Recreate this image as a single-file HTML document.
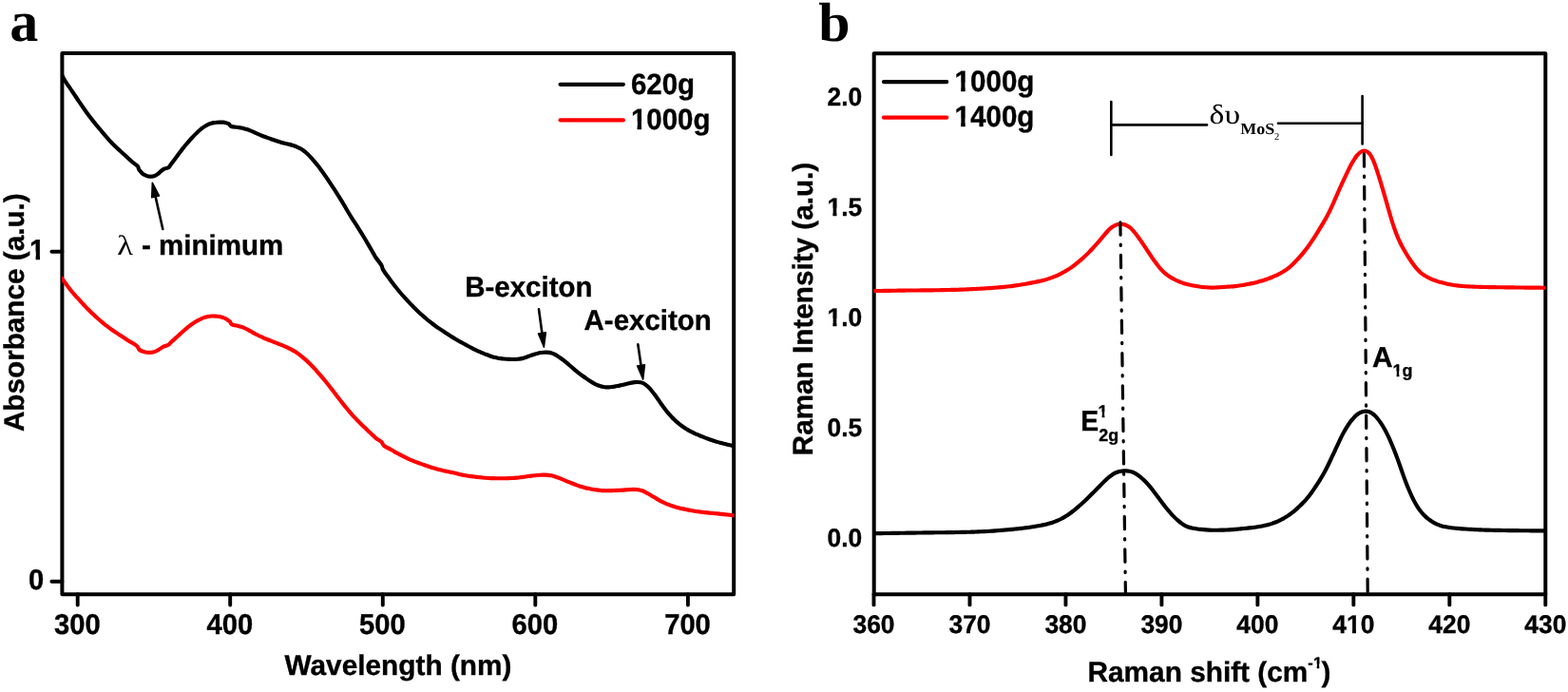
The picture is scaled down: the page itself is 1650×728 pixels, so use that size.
<!DOCTYPE html>
<html lang="en">
<head>
<meta charset="utf-8">
<title>Absorbance and Raman spectra</title>
<style>
html,body{margin:0;padding:0;background:#fff;}
body{width:1650px;height:728px;overflow:hidden;}
svg{display:block;}
text{fill:#000;text-rendering:geometricPrecision;}
.sans{font-family:"Liberation Sans",Arial,Helvetica,sans-serif;font-weight:bold;stroke:#000;stroke-width:0.35px;stroke-linejoin:round;}
.serif{font-family:"Liberation Serif","Times New Roman",Times,serif;font-weight:normal;}
.serifb{font-family:"Liberation Serif","Times New Roman",Times,serif;font-weight:bold;}
</style>
</head>
<body>
<svg width="1650" height="728" viewBox="0 0 1650 728">
<defs>
<clipPath id="ca"><rect x="65.00" y="56.10" width="707.60" height="569.20"/></clipPath>
<clipPath id="cb"><rect x="919.30" y="56.20" width="707.20" height="569.10"/></clipPath>
<clipPath id="h0"><path clip-rule="evenodd" d="M-60 -80H420V60H-60ZM0.36 -8.64H6.68V1.60H0.36ZM11.15 -8.64H16.79V1.60H11.15Z"/></clipPath>
<clipPath id="h1"><path clip-rule="evenodd" d="M-60 -80H420V60H-60ZM0.34 -8.55H6.62V1.60H0.34ZM11.04 -8.55H16.63V1.60H11.04Z"/></clipPath>
<clipPath id="h2"><path clip-rule="evenodd" d="M-60 -80H420V60H-60ZM0.36 -8.67H6.71V1.60H0.36ZM11.19 -8.67H16.84V1.60H11.19Z"/></clipPath>
<clipPath id="h3"><path clip-rule="evenodd" d="M-60 -80H420V60H-60ZM14.85 -7.73H20.66V1.60H14.85ZM24.66 -7.73H29.83V1.60H24.66Z"/></clipPath>
<clipPath id="h4"><path clip-rule="evenodd" d="M-60 -80H420V60H-60ZM0.16 -7.73H5.98V1.60H0.16ZM9.98 -7.73H15.15V1.60H9.98Z"/></clipPath>
<clipPath id="h5"><path clip-rule="evenodd" d="M-60 -80H420V60H-60ZM236.95 -18.72H241.20V-12.20H236.95ZM243.74 -18.72H247.47V-12.20H243.74Z"/></clipPath>
<clipPath id="h6"><path clip-rule="evenodd" d="M-60 -80H420V60H-60ZM-0.37 -5.24H4.06V1.60H-0.37ZM6.76 -5.24H10.66V1.60H6.76Z"/></clipPath>
</defs>
<rect width="1650" height="728" fill="#fff"/>
<g id="panel-a">
<rect x="65.40" y="56.10" width="706.80" height="569.20" fill="none" stroke="#000" stroke-width="4.00" stroke-linejoin="round"/>
<g stroke="#000" stroke-width="3.9" stroke-linecap="round">
<line x1="54.40" y1="264.70" x2="65.40" y2="264.70"/>
<line x1="54.40" y1="611.70" x2="65.40" y2="611.70"/>
<line x1="81.70" y1="625.30" x2="81.70" y2="636.60"/>
<line x1="242.20" y1="625.30" x2="242.20" y2="636.60"/>
<line x1="402.80" y1="625.30" x2="402.80" y2="636.60"/>
<line x1="563.30" y1="625.30" x2="563.30" y2="636.60"/>
<line x1="723.90" y1="625.30" x2="723.90" y2="636.60"/>
</g>
<g fill="none" stroke-width="4.15" stroke-linejoin="round" stroke-linecap="butt" clip-path="url(#ca)">
<path d="M64.00 76.80C64.50 77.75 65.99 80.74 66.99 82.49C67.98 84.23 68.98 85.75 69.98 87.28C70.97 88.80 71.97 90.18 72.96 91.64C73.96 93.10 74.96 94.54 75.95 96.02C76.95 97.49 77.94 99.01 78.94 100.51C79.94 102.00 80.93 103.52 81.93 105.01C82.92 106.49 83.92 107.97 84.92 109.43C85.91 110.88 86.91 112.32 87.90 113.73C88.90 115.15 89.90 116.55 90.89 117.93C91.89 119.31 92.88 120.67 93.88 122.00C94.88 123.33 95.87 124.63 96.87 125.90C97.86 127.17 98.86 128.41 99.86 129.63C100.85 130.85 101.85 132.04 102.84 133.23C103.84 134.43 104.84 135.60 105.83 136.79C106.83 137.97 107.82 139.16 108.82 140.34C109.82 141.52 110.81 142.71 111.81 143.87C112.80 145.03 113.80 146.18 114.80 147.28C115.79 148.38 116.79 149.45 117.78 150.48C118.78 151.51 119.78 152.48 120.77 153.44C121.77 154.40 122.76 155.32 123.76 156.24C124.76 157.16 125.75 158.06 126.75 158.97C127.74 159.88 128.74 160.79 129.74 161.71C130.73 162.63 131.73 163.55 132.72 164.48C133.72 165.40 134.72 166.32 135.71 167.24C136.71 168.17 137.20 168.76 138.70 170.00C140.20 171.24 143.42 173.25 144.70 174.70C145.98 176.15 145.52 177.37 146.40 178.70C147.28 180.03 149.07 181.82 150.00 182.70C150.93 183.58 151.33 183.59 152.00 183.95C152.67 184.31 153.33 184.61 154.00 184.86C154.67 185.11 155.33 185.30 156.00 185.44C156.67 185.57 157.33 185.66 158.00 185.69C158.67 185.72 159.33 185.69 160.00 185.61C160.67 185.52 161.33 185.38 162.00 185.17C162.67 184.96 163.33 184.68 164.00 184.33C164.67 183.98 165.33 183.55 166.00 183.05C166.67 182.54 166.88 182.19 168.00 181.30C169.12 180.41 171.15 178.53 172.70 177.70C174.25 176.87 176.08 177.13 177.30 176.30C178.52 175.47 178.43 174.78 180.00 172.70C181.57 170.62 185.09 165.99 186.70 163.83C188.31 161.67 188.67 161.06 189.66 159.73C190.64 158.41 191.63 157.12 192.62 155.87C193.60 154.61 194.59 153.40 195.57 152.22C196.56 151.03 197.55 149.89 198.53 148.77C199.52 147.64 200.50 146.55 201.49 145.48C202.48 144.41 203.46 143.37 204.45 142.36C205.43 141.35 206.42 140.36 207.41 139.43C208.39 138.49 209.38 137.59 210.36 136.75C211.35 135.91 212.34 135.11 213.32 134.40C214.31 133.68 215.29 133.03 216.28 132.45C217.27 131.87 218.25 131.37 219.24 130.93C220.22 130.50 221.21 130.14 222.20 129.83C223.18 129.53 224.17 129.29 225.15 129.11C226.14 128.92 227.13 128.79 228.11 128.71C229.10 128.62 230.08 128.59 231.07 128.57C232.06 128.55 233.21 128.59 234.03 128.61C234.85 128.63 234.89 128.42 236.00 128.70C237.11 128.98 239.48 129.58 240.70 130.30C241.92 131.01 241.63 132.37 243.30 132.98C244.97 133.59 248.97 133.69 250.70 133.94C252.43 134.20 252.69 134.31 253.69 134.52C254.69 134.73 255.69 134.97 256.68 135.23C257.68 135.49 258.68 135.77 259.68 136.09C260.67 136.42 261.67 136.77 262.67 137.16C263.66 137.54 264.66 137.97 265.66 138.41C266.66 138.85 267.65 139.32 268.65 139.77C269.65 140.22 270.64 140.68 271.64 141.11C272.64 141.54 273.64 141.95 274.63 142.35C275.63 142.75 276.63 143.12 277.63 143.50C278.62 143.87 279.62 144.23 280.62 144.59C281.61 144.95 282.61 145.31 283.61 145.66C284.61 146.01 285.60 146.36 286.60 146.71C287.60 147.06 288.60 147.41 289.59 147.75C290.59 148.10 291.59 148.44 292.58 148.77C293.58 149.09 294.58 149.41 295.58 149.70C296.57 149.99 297.57 150.25 298.57 150.50C299.56 150.75 300.56 150.96 301.56 151.19C302.56 151.42 303.55 151.62 304.55 151.88C305.55 152.13 306.55 152.40 307.54 152.71C308.54 153.02 309.54 153.37 310.53 153.76C311.53 154.14 312.53 154.56 313.53 155.03C314.52 155.50 315.52 155.99 316.52 156.57C317.52 157.15 318.51 157.78 319.51 158.50C320.51 159.23 321.50 160.04 322.50 160.93C323.50 161.82 324.50 162.82 325.49 163.85C326.49 164.87 327.49 165.97 328.48 167.09C329.48 168.21 330.48 169.37 331.48 170.56C332.47 171.76 333.47 172.98 334.47 174.25C335.47 175.52 336.46 176.83 337.46 178.18C338.46 179.53 339.45 180.93 340.45 182.35C341.45 183.76 342.45 185.22 343.44 186.69C344.44 188.16 345.44 189.66 346.44 191.16C347.43 192.65 348.43 194.16 349.43 195.67C350.42 197.18 351.42 198.69 352.42 200.22C353.42 201.75 354.41 203.27 355.41 204.83C356.41 206.39 357.40 207.96 358.40 209.59C359.40 211.21 360.40 212.87 361.39 214.56C362.39 216.24 363.39 217.99 364.39 219.68C365.38 221.38 366.38 223.09 367.38 224.73C368.37 226.38 369.37 227.96 370.37 229.53C371.37 231.10 372.36 232.61 373.36 234.15C374.36 235.69 375.36 237.22 376.35 238.79C377.35 240.36 378.35 241.96 379.34 243.58C380.34 245.20 381.34 246.86 382.34 248.52C383.33 250.19 384.33 251.87 385.33 253.56C386.32 255.24 387.32 256.94 388.32 258.64C389.32 260.34 390.31 262.05 391.31 263.77C392.31 265.49 393.64 267.80 394.30 268.96C394.97 270.11 394.13 269.04 395.30 270.70C396.47 272.36 399.97 276.67 401.30 278.91C402.63 281.14 401.85 281.67 403.30 284.09C404.75 286.51 408.38 291.18 410.00 293.43C411.62 295.68 412.00 296.26 413.00 297.61C414.00 298.97 415.00 300.28 416.00 301.56C417.00 302.83 418.00 304.06 419.00 305.26C419.99 306.46 420.99 307.61 421.99 308.75C422.99 309.89 423.99 310.99 424.99 312.09C425.99 313.20 426.99 314.29 427.99 315.37C428.99 316.46 429.99 317.54 430.99 318.60C431.99 319.67 432.99 320.73 433.99 321.76C434.99 322.80 435.99 323.81 436.99 324.81C437.98 325.80 438.98 326.77 439.98 327.72C440.98 328.67 441.98 329.60 442.98 330.51C443.98 331.42 444.98 332.31 445.98 333.18C446.98 334.05 447.98 334.90 448.98 335.73C449.98 336.56 450.98 337.37 451.98 338.17C452.98 338.96 453.98 339.74 454.98 340.50C455.97 341.26 456.97 342.00 457.97 342.73C458.97 343.45 459.97 344.15 460.97 344.85C461.97 345.54 462.97 346.21 463.97 346.88C464.97 347.54 465.97 348.20 466.97 348.85C467.97 349.51 468.97 350.15 469.97 350.80C470.97 351.45 471.97 352.09 472.97 352.73C473.96 353.36 474.96 354.00 475.96 354.61C476.96 355.23 477.96 355.84 478.96 356.44C479.96 357.03 480.96 357.61 481.96 358.18C482.96 358.75 483.96 359.30 484.96 359.85C485.96 360.41 486.96 360.95 487.96 361.50C488.96 362.05 489.96 362.59 490.96 363.14C491.95 363.69 492.95 364.25 493.95 364.79C494.95 365.34 495.95 365.88 496.95 366.41C497.95 366.93 498.95 367.45 499.95 367.94C500.95 368.43 501.95 368.90 502.95 369.35C503.95 369.81 504.95 370.24 505.95 370.66C506.95 371.09 507.95 371.49 508.95 371.89C509.95 372.29 510.94 372.68 511.94 373.06C512.94 373.45 513.94 373.83 514.94 374.19C515.94 374.55 516.94 374.90 517.94 375.21C518.94 375.52 519.94 375.80 520.94 376.05C521.94 376.29 522.94 376.49 523.94 376.67C524.94 376.86 525.94 377.00 526.94 377.14C527.94 377.27 528.93 377.38 529.93 377.47C530.93 377.57 531.93 377.64 532.93 377.71C533.93 377.77 534.93 377.83 535.93 377.87C536.93 377.92 537.93 377.96 538.93 377.98C539.93 378.00 540.93 378.01 541.93 377.98C542.93 377.95 543.93 377.89 544.93 377.79C545.93 377.68 546.92 377.53 547.92 377.34C548.92 377.15 549.92 376.92 550.92 376.65C551.92 376.37 552.92 376.05 553.92 375.71C554.92 375.38 555.92 375.00 556.92 374.63C557.92 374.27 558.92 373.88 559.92 373.53C560.92 373.17 561.92 372.81 562.92 372.50C563.92 372.19 564.91 371.90 565.91 371.66C566.91 371.43 567.91 371.23 568.91 371.07C569.91 370.92 570.91 370.81 571.91 370.74C572.91 370.67 573.91 370.63 574.91 370.66C575.91 370.68 576.91 370.74 577.91 370.91C578.91 371.08 579.91 371.32 580.91 371.66C581.91 372.00 582.90 372.44 583.90 372.94C584.90 373.44 585.90 374.03 586.90 374.66C587.90 375.29 588.90 375.99 589.90 376.71C590.90 377.43 591.90 378.20 592.90 378.99C593.90 379.77 594.90 380.60 595.90 381.43C596.90 382.25 597.90 383.11 598.90 383.96C599.90 384.82 600.90 385.69 601.89 386.55C602.89 387.40 603.89 388.27 604.89 389.10C605.89 389.94 606.89 390.76 607.89 391.55C608.89 392.34 609.89 393.10 610.89 393.85C611.89 394.60 612.89 395.33 613.89 396.04C614.89 396.76 615.89 397.47 616.89 398.16C617.89 398.85 618.89 399.54 619.88 400.20C620.88 400.86 621.88 401.51 622.88 402.12C623.88 402.72 624.88 403.32 625.88 403.84C626.88 404.37 627.88 404.87 628.88 405.28C629.88 405.69 630.88 406.04 631.88 406.33C632.88 406.61 633.88 406.83 634.88 406.99C635.88 407.15 636.88 407.26 637.87 407.31C638.87 407.37 639.87 407.36 640.87 407.32C641.87 407.28 642.87 407.18 643.87 407.06C644.87 406.94 645.87 406.79 646.87 406.62C647.87 406.45 648.87 406.26 649.87 406.05C650.87 405.85 651.87 405.62 652.87 405.39C653.87 405.15 654.87 404.90 655.86 404.66C656.86 404.41 657.86 404.15 658.86 403.91C659.86 403.67 660.86 403.42 661.86 403.20C662.86 402.98 663.86 402.77 664.86 402.60C665.86 402.42 666.86 402.26 667.86 402.16C668.86 402.06 669.86 401.97 670.86 401.99C671.86 402.00 672.86 402.04 673.85 402.25C674.85 402.45 675.85 402.73 676.85 403.19C677.85 403.66 678.85 404.28 679.85 405.05C680.85 405.82 681.85 406.77 682.85 407.80C683.85 408.83 684.85 410.02 685.85 411.23C686.85 412.45 687.85 413.77 688.85 415.11C689.85 416.45 690.85 417.86 691.85 419.27C692.84 420.68 693.84 422.16 694.84 423.58C695.84 425.01 696.84 426.46 697.84 427.84C698.84 429.21 699.84 430.56 700.84 431.82C701.84 433.09 702.84 434.30 703.84 435.44C704.84 436.59 705.84 437.66 706.84 438.70C707.84 439.74 708.84 440.71 709.84 441.66C710.83 442.61 711.83 443.51 712.83 444.37C713.83 445.24 714.83 446.06 715.83 446.84C716.83 447.62 717.83 448.36 718.83 449.06C719.83 449.76 720.83 450.41 721.83 451.04C722.83 451.67 723.83 452.26 724.83 452.82C725.83 453.38 726.83 453.91 727.83 454.42C728.82 454.93 729.82 455.40 730.82 455.87C731.82 456.33 732.82 456.77 733.82 457.20C734.82 457.64 735.82 458.05 736.82 458.46C737.82 458.88 738.82 459.28 739.82 459.68C740.82 460.07 741.82 460.46 742.82 460.84C743.82 461.21 744.82 461.58 745.82 461.94C746.81 462.29 747.81 462.64 748.81 462.98C749.81 463.31 750.81 463.64 751.81 463.96C752.81 464.28 753.81 464.58 754.81 464.88C755.81 465.18 756.81 465.47 757.81 465.75C758.81 466.03 759.81 466.30 760.81 466.57C761.81 466.83 762.81 467.09 763.81 467.33C764.80 467.58 765.80 467.83 766.80 468.06C767.80 468.30 768.80 468.53 769.80 468.75C770.80 468.98 772.13 469.26 772.80 469.40C773.47 469.54 773.63 469.57 773.80 469.60" stroke="#000"/>
<path d="M64.00 291.60C64.33 292.01 65.33 293.20 66.00 294.05C66.67 294.90 67.33 295.78 68.00 296.68C68.67 297.58 69.33 298.51 70.00 299.42C70.67 300.33 71.33 301.26 72.00 302.16C72.67 303.05 73.33 303.93 74.00 304.78C74.67 305.63 75.33 306.44 76.00 307.24C76.67 308.04 77.33 308.80 78.00 309.56C78.67 310.31 79.33 311.05 80.00 311.78C80.67 312.51 81.33 313.24 82.00 313.96C82.67 314.69 83.33 315.42 84.00 316.14C84.67 316.87 85.33 317.59 86.00 318.32C86.67 319.04 87.33 319.76 88.00 320.48C88.67 321.19 89.33 321.90 90.00 322.60C90.67 323.30 91.33 324.00 92.00 324.68C92.67 325.36 93.33 326.03 94.00 326.70C94.67 327.36 95.33 328.01 96.00 328.66C96.67 329.30 97.33 329.94 98.00 330.56C98.67 331.19 99.33 331.81 100.00 332.42C100.67 333.03 101.33 333.64 102.00 334.23C102.67 334.83 103.33 335.42 104.00 336.00C104.67 336.58 105.33 337.16 106.00 337.73C106.67 338.29 107.33 338.85 108.00 339.41C108.67 339.96 109.33 340.51 110.00 341.05C110.67 341.58 111.33 342.11 112.00 342.63C112.67 343.16 113.33 343.67 114.00 344.17C114.67 344.67 115.33 345.16 116.00 345.65C116.67 346.13 117.33 346.61 118.00 347.07C118.67 347.54 119.33 348.00 120.00 348.46C120.67 348.91 121.33 349.36 122.00 349.81C122.67 350.26 123.33 350.70 124.00 351.14C124.67 351.59 125.33 352.03 126.00 352.47C126.67 352.91 127.33 353.35 128.00 353.78C128.67 354.22 129.33 354.65 130.00 355.08C130.67 355.52 131.33 355.95 132.00 356.37C132.67 356.80 133.33 357.22 134.00 357.65C134.67 358.07 134.33 357.84 136.00 358.90C137.67 359.96 142.22 362.48 144.00 364.00C145.78 365.52 145.37 366.95 146.70 368.00C148.03 369.05 150.63 369.83 152.00 370.30C153.37 370.77 153.96 370.71 154.94 370.81C155.92 370.90 156.90 370.93 157.88 370.88C158.86 370.82 159.84 370.71 160.82 370.49C161.80 370.27 162.78 369.98 163.76 369.57C164.74 369.15 165.33 368.81 166.70 368.00C168.07 367.19 170.23 365.58 172.00 364.70C173.77 363.82 175.97 363.48 177.30 362.70C178.63 361.92 178.43 361.45 180.00 360.00C181.57 358.55 185.25 355.31 186.70 354.00C188.15 352.69 188.03 352.75 188.70 352.14C189.37 351.52 190.03 350.91 190.70 350.31C191.37 349.70 192.03 349.10 192.70 348.51C193.37 347.92 194.03 347.33 194.70 346.75C195.37 346.17 196.03 345.60 196.70 345.05C197.37 344.49 198.03 343.95 198.70 343.43C199.37 342.90 200.03 342.39 200.70 341.91C201.37 341.42 202.03 340.95 202.70 340.49C203.37 340.04 204.03 339.61 204.70 339.19C205.37 338.77 206.03 338.37 206.70 337.98C207.37 337.59 208.03 337.22 208.70 336.86C209.37 336.51 210.03 336.16 210.70 335.84C211.37 335.52 212.03 335.22 212.70 334.94C213.37 334.65 214.03 334.39 214.70 334.16C215.37 333.92 216.03 333.71 216.70 333.52C217.37 333.34 218.03 333.18 218.70 333.05C219.37 332.91 220.03 332.81 220.70 332.73C221.37 332.65 222.03 332.59 222.70 332.55C223.37 332.51 224.03 332.50 224.70 332.50C225.37 332.50 226.03 332.52 226.70 332.56C227.37 332.60 228.03 332.65 228.70 332.73C229.37 332.81 230.03 332.91 230.70 333.03C231.37 333.16 232.03 333.31 232.70 333.49C233.37 333.67 234.03 333.87 234.70 334.12C235.37 334.36 236.03 334.64 236.70 334.95C237.37 335.27 237.82 335.43 238.70 336.00C239.58 336.57 241.12 337.52 242.00 338.40C242.88 339.28 242.55 340.55 244.00 341.30C245.45 342.05 249.09 342.49 250.70 342.90C252.31 343.31 252.69 343.42 253.69 343.74C254.68 344.07 255.68 344.44 256.67 344.86C257.67 345.28 258.66 345.75 259.66 346.25C260.65 346.75 261.65 347.32 262.64 347.87C263.64 348.42 264.63 349.01 265.63 349.57C266.62 350.13 267.62 350.69 268.61 351.22C269.61 351.75 270.60 352.27 271.60 352.76C272.59 353.26 273.59 353.73 274.58 354.19C275.58 354.66 276.58 355.10 277.57 355.53C278.57 355.96 279.56 356.38 280.56 356.79C281.55 357.20 282.55 357.60 283.54 358.00C284.54 358.40 285.53 358.78 286.53 359.17C287.52 359.56 288.52 359.94 289.51 360.33C290.51 360.72 291.50 361.10 292.50 361.49C293.49 361.88 294.49 362.27 295.48 362.66C296.48 363.06 297.47 363.45 298.47 363.87C299.47 364.28 300.46 364.69 301.46 365.14C302.45 365.58 303.45 366.04 304.44 366.53C305.44 367.02 306.43 367.52 307.43 368.08C308.42 368.63 309.42 369.21 310.41 369.84C311.41 370.47 312.40 371.14 313.40 371.85C314.39 372.56 315.39 373.32 316.38 374.10C317.38 374.88 318.37 375.70 319.37 376.55C320.36 377.39 321.36 378.26 322.35 379.16C323.35 380.07 324.35 381.00 325.34 381.97C326.34 382.94 327.33 383.95 328.33 384.99C329.32 386.02 330.32 387.10 331.31 388.19C332.31 389.28 333.30 390.40 334.30 391.52C335.29 392.64 336.29 393.77 337.28 394.91C338.28 396.06 339.27 397.21 340.27 398.39C341.26 399.57 342.26 400.78 343.25 402.01C344.25 403.24 345.24 404.51 346.24 405.78C347.23 407.06 348.23 408.36 349.23 409.66C350.22 410.96 351.22 412.27 352.21 413.57C353.21 414.87 354.20 416.17 355.20 417.46C356.19 418.75 357.19 420.04 358.18 421.31C359.18 422.59 360.17 423.85 361.17 425.09C362.16 426.34 363.16 427.56 364.15 428.77C365.15 429.98 366.14 431.17 367.14 432.34C368.13 433.51 369.13 434.66 370.12 435.79C371.12 436.91 372.12 438.01 373.11 439.08C374.11 440.16 375.10 441.20 376.10 442.22C377.09 443.24 378.09 444.23 379.08 445.22C380.08 446.20 381.07 447.17 382.07 448.14C383.06 449.10 384.06 450.06 385.05 451.02C386.05 451.98 387.04 452.93 388.04 453.88C389.03 454.82 390.03 455.77 391.02 456.70C392.02 457.63 393.18 458.71 394.01 459.48C394.84 460.24 394.78 460.41 396.00 461.30C397.22 462.19 399.97 463.55 401.30 464.80C402.63 466.05 402.22 467.38 404.00 468.80C405.78 470.22 410.17 472.28 412.00 473.32C413.83 474.37 414.00 474.52 415.00 475.10C416.00 475.67 417.00 476.24 418.00 476.79C419.00 477.34 420.00 477.88 421.00 478.41C421.99 478.94 422.99 479.46 423.99 479.96C424.99 480.47 425.99 480.96 426.99 481.44C427.99 481.93 428.99 482.40 429.99 482.85C430.99 483.30 431.99 483.74 432.99 484.16C433.99 484.58 434.99 484.99 435.99 485.38C436.99 485.77 437.99 486.14 438.99 486.51C439.98 486.88 440.98 487.23 441.98 487.59C442.98 487.95 443.98 488.30 444.98 488.65C445.98 489.00 446.98 489.36 447.98 489.70C448.98 490.04 449.98 490.38 450.98 490.71C451.98 491.04 452.98 491.36 453.98 491.67C454.98 491.99 455.98 492.29 456.98 492.58C457.97 492.87 458.97 493.15 459.97 493.43C460.97 493.70 461.97 493.97 462.97 494.22C463.97 494.48 464.97 494.72 465.97 494.95C466.97 495.19 467.97 495.40 468.97 495.62C469.97 495.83 470.97 496.03 471.97 496.24C472.97 496.45 473.97 496.65 474.97 496.87C475.96 497.09 476.96 497.31 477.96 497.55C478.96 497.78 479.96 498.03 480.96 498.28C481.96 498.52 482.96 498.78 483.96 499.02C484.96 499.26 485.96 499.49 486.96 499.70C487.96 499.92 488.96 500.11 489.96 500.29C490.96 500.46 491.96 500.62 492.96 500.77C493.95 500.91 494.95 501.04 495.95 501.17C496.95 501.30 497.95 501.41 498.95 501.53C499.95 501.64 500.95 501.75 501.95 501.86C502.95 501.97 503.95 502.07 504.95 502.18C505.95 502.28 506.95 502.38 507.95 502.48C508.95 502.58 509.95 502.68 510.95 502.76C511.94 502.84 512.94 502.91 513.94 502.97C514.94 503.03 515.94 503.07 516.94 503.11C517.94 503.14 518.94 503.16 519.94 503.18C520.94 503.21 521.94 503.22 522.94 503.24C523.94 503.25 524.94 503.27 525.94 503.28C526.94 503.29 527.94 503.30 528.94 503.30C529.93 503.30 530.93 503.29 531.93 503.27C532.93 503.25 533.93 503.23 534.93 503.19C535.93 503.15 536.93 503.11 537.93 503.05C538.93 503.00 539.93 502.94 540.93 502.87C541.93 502.80 542.93 502.73 543.93 502.63C544.93 502.54 545.93 502.43 546.93 502.31C547.92 502.18 548.92 502.04 549.92 501.90C550.92 501.76 551.92 501.60 552.92 501.46C553.92 501.32 554.92 501.17 555.92 501.03C556.92 500.89 557.92 500.75 558.92 500.63C559.92 500.50 560.92 500.38 561.92 500.27C562.92 500.16 563.92 500.07 564.92 499.98C565.91 499.90 566.91 499.82 567.91 499.76C568.91 499.71 569.91 499.65 570.91 499.63C571.91 499.61 572.91 499.61 573.91 499.64C574.91 499.68 575.91 499.73 576.91 499.84C577.91 499.94 578.91 500.08 579.91 500.27C580.91 500.46 581.91 500.70 582.91 500.99C583.90 501.27 584.90 501.62 585.90 501.98C586.90 502.34 587.90 502.74 588.90 503.14C589.90 503.53 590.90 503.94 591.90 504.34C592.90 504.75 593.90 505.16 594.90 505.57C595.90 505.98 596.90 506.40 597.90 506.82C598.90 507.23 599.90 507.66 600.90 508.07C601.90 508.48 602.89 508.89 603.89 509.28C604.89 509.67 605.89 510.04 606.89 510.40C607.89 510.76 608.89 511.10 609.89 511.43C610.89 511.75 611.89 512.06 612.89 512.35C613.89 512.63 614.89 512.90 615.89 513.15C616.89 513.39 617.89 513.62 618.89 513.83C619.89 514.05 620.88 514.24 621.88 514.42C622.88 514.61 623.88 514.77 624.88 514.94C625.88 515.10 626.88 515.25 627.88 515.39C628.88 515.53 629.88 515.67 630.88 515.78C631.88 515.89 632.88 515.99 633.88 516.06C634.88 516.13 635.88 516.17 636.88 516.19C637.88 516.21 638.87 516.20 639.87 516.19C640.87 516.18 641.87 516.15 642.87 516.13C643.87 516.10 644.87 516.07 645.87 516.04C646.87 516.01 647.87 515.98 648.87 515.94C649.87 515.89 650.87 515.85 651.87 515.80C652.87 515.74 653.87 515.68 654.87 515.61C655.87 515.55 656.86 515.47 657.86 515.39C658.86 515.32 659.86 515.23 660.86 515.15C661.86 515.08 662.86 515.00 663.86 514.96C664.86 514.91 665.86 514.87 666.86 514.88C667.86 514.88 668.86 514.90 669.86 515.00C670.86 515.09 671.86 515.22 672.86 515.44C673.86 515.66 674.85 515.95 675.85 516.31C676.85 516.67 677.85 517.12 678.85 517.60C679.85 518.09 680.85 518.65 681.85 519.22C682.85 519.79 683.85 520.41 684.85 521.01C685.85 521.61 686.85 522.23 687.85 522.83C688.85 523.43 689.85 524.03 690.85 524.61C691.85 525.19 692.84 525.76 693.84 526.30C694.84 526.85 695.84 527.39 696.84 527.89C697.84 528.40 698.84 528.89 699.84 529.34C700.84 529.80 701.84 530.23 702.84 530.63C703.84 531.04 704.84 531.41 705.84 531.77C706.84 532.12 707.84 532.45 708.84 532.76C709.84 533.07 710.83 533.36 711.83 533.63C712.83 533.91 713.83 534.16 714.83 534.41C715.83 534.66 716.83 534.90 717.83 535.12C718.83 535.35 719.83 535.57 720.83 535.78C721.83 535.99 722.83 536.19 723.83 536.38C724.83 536.58 725.83 536.76 726.83 536.95C727.83 537.13 728.82 537.30 729.82 537.46C730.82 537.63 731.82 537.78 732.82 537.93C733.82 538.08 734.82 538.21 735.82 538.35C736.82 538.48 737.82 538.60 738.82 538.72C739.82 538.84 740.82 538.96 741.82 539.07C742.82 539.18 743.82 539.29 744.82 539.40C745.82 539.51 746.81 539.61 747.81 539.71C748.81 539.82 749.81 539.91 750.81 540.01C751.81 540.11 752.81 540.20 753.81 540.30C754.81 540.39 755.81 540.49 756.81 540.58C757.81 540.68 758.81 540.78 759.81 540.88C760.81 540.98 761.81 541.09 762.81 541.20C763.81 541.31 764.80 541.42 765.80 541.53C766.80 541.64 767.80 541.76 768.80 541.88C769.80 541.99 770.97 542.14 771.80 542.24C772.63 542.35 773.47 542.46 773.80 542.50" stroke="#f00"/>
</g>
<g stroke-width="4.3" stroke-linecap="round">
<line x1="589.6" y1="88.8" x2="655.8" y2="88.8" stroke="#000"/>
<line x1="589.6" y1="126.4" x2="655.8" y2="126.4" stroke="#f00"/>
</g>
<text class="sans" transform="translate(663.90 98.70) scale(1 1.05)" font-size="29.5">620g</text>
<g clip-path="url(#h0)" transform="translate(663.90 136.30) scale(1 1.05)"><text class="sans" font-size="29.5">1000g</text></g>
<text class="sans" transform="translate(81.30 667.40) scale(1 1.035)" font-size="29.2" text-anchor="middle">300</text>
<text class="sans" transform="translate(241.80 667.40) scale(1 1.035)" font-size="29.2" text-anchor="middle">400</text>
<text class="sans" transform="translate(402.40 667.40) scale(1 1.035)" font-size="29.2" text-anchor="middle">500</text>
<text class="sans" transform="translate(562.90 667.40) scale(1 1.035)" font-size="29.2" text-anchor="middle">600</text>
<text class="sans" transform="translate(723.50 667.40) scale(1 1.035)" font-size="29.2" text-anchor="middle">700</text>
<g clip-path="url(#h1)" transform="translate(31.00 273.30) scale(1 1.035)"><text class="sans" font-size="29.2">1</text></g>
<text class="sans" transform="translate(38.00 620.20) scale(1 1.035)" font-size="29.2" text-anchor="middle">0</text>
<text class="sans" transform="translate(419.00 710.00)" font-size="29.8" text-anchor="middle">Wavelength (nm)</text>
<text class="sans" transform="translate(24.70 328.70) rotate(-90)" font-size="29.7" text-anchor="middle">Absorbance (a.u.)</text>
<text class="serif" transform="translate(123.30 267.50) scale(1.17 1)" font-size="29.6">λ</text>
<text class="sans" transform="translate(149.00 267.50) scale(1 1.01)" font-size="29.55">- minimum</text>
<text class="sans" transform="translate(489.30 312.20) scale(1 1.02)" font-size="29.45">B-exciton</text>
<text class="sans" transform="translate(614.60 347.30) scale(1 1.02)" font-size="29.45">A-exciton</text>
<line x1="171.30" y1="241.00" x2="163.16" y2="204.90" stroke="#000" stroke-width="2.60" stroke-linecap="round"/>
<polygon points="160.30,192.22 167.50,205.97 159.70,207.73" fill="#000" stroke="#000" stroke-width="1.50" stroke-linejoin="round"/>
<line x1="567.00" y1="325.30" x2="570.67" y2="352.38" stroke="#000" stroke-width="2.60" stroke-linecap="round"/>
<polygon points="572.42,365.26 566.44,350.94 574.37,349.86" fill="#000" stroke="#000" stroke-width="1.50" stroke-linejoin="round"/>
<line x1="671.30" y1="362.20" x2="674.82" y2="386.30" stroke="#000" stroke-width="2.60" stroke-linecap="round"/>
<polygon points="676.70,399.16 670.58,384.90 678.49,383.74" fill="#000" stroke="#000" stroke-width="1.50" stroke-linejoin="round"/>
</g>
<text class="serifb" transform="translate(10.20 43.00) scale(1 1.01)" font-size="60">a</text>
<text class="serifb" transform="translate(861.20 43.20) scale(1 0.965)" font-size="60">b</text>
<g id="panel-b">
<rect x="919.70" y="56.20" width="706.60" height="569.10" fill="none" stroke="#000" stroke-width="4.00" stroke-linejoin="round"/>
<g stroke="#000" stroke-width="3.9" stroke-linecap="round">
<line x1="919.50" y1="625.30" x2="919.50" y2="636.40"/>
<line x1="1020.47" y1="625.30" x2="1020.47" y2="636.40"/>
<line x1="1121.44" y1="625.30" x2="1121.44" y2="636.40"/>
<line x1="1222.41" y1="625.30" x2="1222.41" y2="636.40"/>
<line x1="1323.38" y1="625.30" x2="1323.38" y2="636.40"/>
<line x1="1424.35" y1="625.30" x2="1424.35" y2="636.40"/>
<line x1="1525.32" y1="625.30" x2="1525.32" y2="636.40"/>
<line x1="1626.29" y1="625.30" x2="1626.29" y2="636.40"/>
</g>
<g fill="none" stroke-width="4.15" stroke-linejoin="round" clip-path="url(#cb)">
<path d="M918.50 561.10C919.00 561.10 920.50 561.10 921.50 561.10C922.50 561.10 923.50 561.09 924.50 561.09C925.50 561.08 926.50 561.07 927.50 561.07C928.50 561.06 929.50 561.05 930.49 561.04C931.49 561.02 932.49 561.01 933.49 561.00C934.49 560.98 935.49 560.97 936.49 560.96C937.49 560.94 938.49 560.93 939.49 560.91C940.49 560.89 941.49 560.88 942.49 560.86C943.49 560.85 944.49 560.83 945.49 560.81C946.49 560.80 947.49 560.78 948.49 560.77C949.49 560.75 950.49 560.74 951.49 560.72C952.49 560.71 953.49 560.70 954.48 560.68C955.48 560.67 956.48 560.66 957.48 560.64C958.48 560.63 959.48 560.62 960.48 560.60C961.48 560.59 962.48 560.57 963.48 560.56C964.48 560.55 965.48 560.53 966.48 560.52C967.48 560.50 968.48 560.49 969.48 560.47C970.48 560.46 971.48 560.45 972.48 560.43C973.48 560.42 974.48 560.40 975.48 560.39C976.48 560.38 977.48 560.36 978.47 560.35C979.47 560.34 980.47 560.33 981.47 560.32C982.47 560.30 983.47 560.29 984.47 560.28C985.47 560.27 986.47 560.26 987.47 560.25C988.47 560.24 989.47 560.23 990.47 560.22C991.47 560.21 992.47 560.21 993.47 560.20C994.47 560.19 995.47 560.18 996.47 560.17C997.47 560.16 998.47 560.14 999.47 560.13C1000.47 560.12 1001.46 560.11 1002.46 560.10C1003.46 560.08 1004.46 560.07 1005.46 560.05C1006.46 560.04 1007.46 560.02 1008.46 560.00C1009.46 559.99 1010.46 559.97 1011.46 559.94C1012.46 559.92 1013.46 559.90 1014.46 559.88C1015.46 559.85 1016.46 559.83 1017.46 559.80C1018.46 559.77 1019.46 559.74 1020.46 559.71C1021.46 559.68 1022.46 559.65 1023.46 559.62C1024.46 559.58 1025.45 559.55 1026.45 559.51C1027.45 559.48 1028.45 559.44 1029.45 559.40C1030.45 559.36 1031.45 559.32 1032.45 559.28C1033.45 559.24 1034.45 559.19 1035.45 559.14C1036.45 559.09 1037.45 559.04 1038.45 558.98C1039.45 558.92 1040.45 558.86 1041.45 558.79C1042.45 558.73 1043.45 558.66 1044.45 558.58C1045.45 558.51 1046.45 558.44 1047.45 558.36C1048.45 558.28 1049.44 558.20 1050.44 558.12C1051.44 558.03 1052.44 557.95 1053.44 557.86C1054.44 557.78 1055.44 557.69 1056.44 557.61C1057.44 557.52 1058.44 557.44 1059.44 557.35C1060.44 557.26 1061.44 557.18 1062.44 557.09C1063.44 557.00 1064.44 556.91 1065.44 556.81C1066.44 556.72 1067.44 556.62 1068.44 556.52C1069.44 556.42 1070.44 556.32 1071.44 556.22C1072.43 556.11 1073.43 556.01 1074.43 555.90C1075.43 555.78 1076.43 555.67 1077.43 555.55C1078.43 555.43 1079.43 555.31 1080.43 555.18C1081.43 555.04 1082.43 554.90 1083.43 554.76C1084.43 554.61 1085.43 554.46 1086.43 554.30C1087.43 554.14 1088.43 553.97 1089.43 553.80C1090.43 553.63 1091.43 553.46 1092.43 553.28C1093.43 553.11 1094.43 552.93 1095.43 552.74C1096.42 552.55 1097.42 552.35 1098.42 552.13C1099.42 551.91 1100.42 551.69 1101.42 551.43C1102.42 551.18 1103.42 550.91 1104.42 550.61C1105.42 550.31 1106.42 549.99 1107.42 549.66C1108.42 549.32 1109.42 548.96 1110.42 548.58C1111.42 548.20 1112.42 547.80 1113.42 547.38C1114.42 546.95 1115.42 546.50 1116.42 546.01C1117.42 545.51 1118.42 544.99 1119.42 544.41C1120.41 543.83 1121.41 543.20 1122.41 542.54C1123.41 541.89 1124.41 541.18 1125.41 540.46C1126.41 539.74 1127.41 538.99 1128.41 538.23C1129.41 537.47 1130.41 536.69 1131.41 535.88C1132.41 535.08 1133.41 534.25 1134.41 533.40C1135.41 532.54 1136.41 531.66 1137.41 530.76C1138.41 529.87 1139.41 528.95 1140.41 528.02C1141.41 527.09 1142.41 526.15 1143.40 525.20C1144.40 524.24 1145.40 523.28 1146.40 522.30C1147.40 521.33 1148.40 520.34 1149.40 519.34C1150.40 518.34 1151.40 517.33 1152.40 516.32C1153.40 515.30 1154.40 514.27 1155.40 513.24C1156.40 512.22 1157.40 511.17 1158.40 510.15C1159.40 509.12 1160.40 508.09 1161.40 507.11C1162.40 506.13 1163.40 505.16 1164.40 504.25C1165.40 503.34 1166.40 502.45 1167.39 501.65C1168.39 500.84 1169.39 500.07 1170.39 499.41C1171.39 498.74 1172.39 498.15 1173.39 497.66C1174.39 497.16 1175.39 496.76 1176.39 496.43C1177.39 496.11 1178.39 495.88 1179.39 495.70C1180.39 495.52 1181.39 495.41 1182.39 495.35C1183.39 495.29 1184.39 495.28 1185.39 495.33C1186.39 495.38 1187.39 495.48 1188.39 495.67C1189.39 495.86 1190.39 496.11 1191.38 496.47C1192.38 496.84 1193.38 497.30 1194.38 497.86C1195.38 498.41 1196.38 499.08 1197.38 499.79C1198.38 500.50 1199.38 501.28 1200.38 502.11C1201.38 502.94 1202.38 503.81 1203.38 504.75C1204.38 505.69 1205.38 506.68 1206.38 507.74C1207.38 508.80 1208.38 509.93 1209.38 511.12C1210.38 512.30 1211.38 513.57 1212.38 514.84C1213.38 516.12 1214.37 517.45 1215.37 518.77C1216.37 520.09 1217.37 521.43 1218.37 522.77C1219.37 524.10 1220.37 525.44 1221.37 526.76C1222.37 528.09 1223.37 529.42 1224.37 530.72C1225.37 532.02 1226.37 533.32 1227.37 534.56C1228.37 535.81 1229.37 537.04 1230.37 538.20C1231.37 539.37 1232.37 540.49 1233.37 541.56C1234.37 542.63 1235.37 543.65 1236.37 544.62C1237.37 545.59 1238.36 546.52 1239.36 547.40C1240.36 548.27 1241.36 549.12 1242.36 549.88C1243.36 550.64 1244.36 551.36 1245.36 551.97C1246.36 552.58 1247.36 553.11 1248.36 553.57C1249.36 554.02 1250.36 554.38 1251.36 554.70C1252.36 555.02 1253.36 555.27 1254.36 555.50C1255.36 555.73 1256.36 555.90 1257.36 556.07C1258.36 556.24 1259.36 556.37 1260.36 556.50C1261.36 556.63 1262.35 556.74 1263.35 556.85C1264.35 556.95 1265.35 557.05 1266.35 557.14C1267.35 557.23 1268.35 557.32 1269.35 557.40C1270.35 557.48 1271.35 557.55 1272.35 557.61C1273.35 557.66 1274.35 557.71 1275.35 557.73C1276.35 557.76 1277.35 557.77 1278.35 557.77C1279.35 557.77 1280.35 557.75 1281.35 557.73C1282.35 557.71 1283.35 557.69 1284.35 557.66C1285.34 557.64 1286.34 557.62 1287.34 557.59C1288.34 557.56 1289.34 557.53 1290.34 557.48C1291.34 557.44 1292.34 557.40 1293.34 557.34C1294.34 557.28 1295.34 557.21 1296.34 557.13C1297.34 557.06 1298.34 556.97 1299.34 556.88C1300.34 556.79 1301.34 556.69 1302.34 556.60C1303.34 556.50 1304.34 556.41 1305.34 556.31C1306.34 556.22 1307.34 556.12 1308.34 556.03C1309.33 555.93 1310.33 555.84 1311.33 555.74C1312.33 555.63 1313.33 555.53 1314.33 555.42C1315.33 555.31 1316.33 555.20 1317.33 555.08C1318.33 554.95 1319.33 554.83 1320.33 554.69C1321.33 554.55 1322.33 554.41 1323.33 554.25C1324.33 554.10 1325.33 553.94 1326.33 553.77C1327.33 553.59 1328.33 553.41 1329.33 553.21C1330.33 553.01 1331.33 552.80 1332.33 552.56C1333.32 552.33 1334.32 552.07 1335.32 551.79C1336.32 551.50 1337.32 551.19 1338.32 550.86C1339.32 550.52 1340.32 550.16 1341.32 549.77C1342.32 549.39 1343.32 548.98 1344.32 548.54C1345.32 548.11 1346.32 547.66 1347.32 547.17C1348.32 546.67 1349.32 546.15 1350.32 545.60C1351.32 545.04 1352.32 544.44 1353.32 543.82C1354.32 543.20 1355.32 542.54 1356.31 541.85C1357.31 541.16 1358.31 540.44 1359.31 539.69C1360.31 538.93 1361.31 538.13 1362.31 537.30C1363.31 536.46 1364.31 535.57 1365.31 534.65C1366.31 533.74 1367.31 532.78 1368.31 531.80C1369.31 530.81 1370.31 529.81 1371.31 528.77C1372.31 527.73 1373.31 526.67 1374.31 525.54C1375.31 524.41 1376.31 523.25 1377.31 521.99C1378.31 520.74 1379.31 519.41 1380.30 518.01C1381.30 516.62 1382.30 515.13 1383.30 513.64C1384.30 512.14 1385.30 510.60 1386.30 509.04C1387.30 507.49 1388.30 505.94 1389.30 504.32C1390.30 502.69 1391.30 501.06 1392.30 499.30C1393.30 497.54 1394.30 495.69 1395.30 493.76C1396.30 491.83 1397.30 489.79 1398.30 487.74C1399.30 485.69 1400.30 483.57 1401.30 481.46C1402.30 479.34 1403.30 477.21 1404.29 475.06C1405.29 472.92 1406.29 470.73 1407.29 468.58C1408.29 466.43 1409.29 464.23 1410.29 462.16C1411.29 460.09 1412.29 458.04 1413.29 456.15C1414.29 454.27 1415.29 452.50 1416.29 450.84C1417.29 449.19 1418.29 447.66 1419.29 446.21C1420.29 444.76 1421.29 443.40 1422.29 442.15C1423.29 440.90 1424.29 439.73 1425.29 438.70C1426.29 437.68 1427.28 436.77 1428.28 436.00C1429.28 435.24 1430.28 434.62 1431.28 434.12C1432.28 433.62 1433.28 433.27 1434.28 433.03C1435.28 432.78 1436.28 432.65 1437.28 432.66C1438.28 432.68 1439.28 432.79 1440.28 433.09C1441.28 433.39 1442.28 433.84 1443.28 434.46C1444.28 435.08 1445.28 435.89 1446.28 436.81C1447.28 437.74 1448.28 438.82 1449.28 440.00C1450.28 441.17 1451.27 442.46 1452.27 443.87C1453.27 445.28 1454.27 446.81 1455.27 448.47C1456.27 450.14 1457.27 451.94 1458.27 453.86C1459.27 455.78 1460.27 457.84 1461.27 459.98C1462.27 462.13 1463.27 464.40 1464.27 466.75C1465.27 469.09 1466.27 471.52 1467.27 474.05C1468.27 476.58 1469.27 479.19 1470.27 481.90C1471.27 484.60 1472.27 487.45 1473.27 490.28C1474.27 493.11 1475.26 496.07 1476.26 498.88C1477.26 501.68 1478.26 504.48 1479.26 507.09C1480.26 509.70 1481.26 512.17 1482.26 514.54C1483.26 516.91 1484.26 519.14 1485.26 521.28C1486.26 523.42 1487.26 525.47 1488.26 527.36C1489.26 529.26 1490.26 531.04 1491.26 532.66C1492.26 534.27 1493.26 535.74 1494.26 537.07C1495.26 538.41 1496.26 539.58 1497.26 540.68C1498.25 541.77 1499.25 542.73 1500.25 543.64C1501.25 544.55 1502.25 545.36 1503.25 546.14C1504.25 546.92 1505.25 547.65 1506.25 548.32C1507.25 548.99 1508.25 549.61 1509.25 550.17C1510.25 550.72 1511.25 551.21 1512.25 551.64C1513.25 552.07 1514.25 552.44 1515.25 552.77C1516.25 553.11 1517.25 553.39 1518.25 553.64C1519.25 553.89 1520.25 554.10 1521.25 554.30C1522.24 554.49 1523.24 554.65 1524.24 554.80C1525.24 554.95 1526.24 555.08 1527.24 555.20C1528.24 555.32 1529.24 555.43 1530.24 555.53C1531.24 555.64 1532.24 555.74 1533.24 555.83C1534.24 555.93 1535.24 556.01 1536.24 556.10C1537.24 556.18 1538.24 556.26 1539.24 556.34C1540.24 556.41 1541.24 556.48 1542.24 556.55C1543.24 556.62 1544.24 556.68 1545.24 556.74C1546.23 556.80 1547.23 556.86 1548.23 556.92C1549.23 556.98 1550.23 557.03 1551.23 557.09C1552.23 557.14 1553.23 557.19 1554.23 557.24C1555.23 557.29 1556.23 557.34 1557.23 557.38C1558.23 557.42 1559.23 557.46 1560.23 557.50C1561.23 557.54 1562.23 557.57 1563.23 557.60C1564.23 557.63 1565.23 557.65 1566.23 557.68C1567.23 557.70 1568.23 557.73 1569.22 557.75C1570.22 557.77 1571.22 557.80 1572.22 557.82C1573.22 557.84 1574.22 557.86 1575.22 557.88C1576.22 557.90 1577.22 557.91 1578.22 557.93C1579.22 557.95 1580.22 557.97 1581.22 557.98C1582.22 558.00 1583.22 558.01 1584.22 558.03C1585.22 558.04 1586.22 558.05 1587.22 558.07C1588.22 558.08 1589.22 558.09 1590.22 558.10C1591.22 558.11 1592.22 558.13 1593.21 558.14C1594.21 558.15 1595.21 558.16 1596.21 558.17C1597.21 558.18 1598.21 558.20 1599.21 558.21C1600.21 558.22 1601.21 558.23 1602.21 558.24C1603.21 558.25 1604.21 558.26 1605.21 558.27C1606.21 558.28 1607.21 558.29 1608.21 558.30C1609.21 558.31 1610.21 558.32 1611.21 558.33C1612.21 558.34 1613.21 558.35 1614.21 558.35C1615.21 558.36 1616.21 558.37 1617.20 558.37C1618.20 558.38 1619.20 558.38 1620.20 558.39C1621.20 558.39 1622.20 558.39 1623.20 558.40C1624.20 558.40 1625.37 558.40 1626.20 558.40C1627.03 558.40 1627.87 558.40 1628.20 558.40" stroke="#000"/>
<path d="M918.50 306.00C919.00 306.00 920.50 306.00 921.50 306.00C922.50 305.99 923.50 305.99 924.50 305.98C925.50 305.98 926.50 305.97 927.50 305.95C928.50 305.94 929.50 305.93 930.49 305.92C931.49 305.90 932.49 305.89 933.49 305.87C934.49 305.85 935.49 305.84 936.49 305.82C937.49 305.80 938.49 305.78 939.49 305.77C940.49 305.75 941.49 305.73 942.49 305.71C943.49 305.69 944.49 305.67 945.49 305.66C946.49 305.64 947.49 305.63 948.49 305.61C949.49 305.60 950.49 305.58 951.49 305.57C952.49 305.56 953.49 305.55 954.48 305.54C955.48 305.53 956.48 305.52 957.48 305.51C958.48 305.50 959.48 305.50 960.48 305.49C961.48 305.48 962.48 305.47 963.48 305.47C964.48 305.46 965.48 305.45 966.48 305.45C967.48 305.44 968.48 305.43 969.48 305.43C970.48 305.42 971.48 305.41 972.48 305.40C973.48 305.40 974.48 305.39 975.48 305.38C976.48 305.37 977.48 305.36 978.47 305.35C979.47 305.34 980.47 305.33 981.47 305.32C982.47 305.30 983.47 305.29 984.47 305.27C985.47 305.26 986.47 305.24 987.47 305.23C988.47 305.21 989.47 305.19 990.47 305.17C991.47 305.16 992.47 305.14 993.47 305.12C994.47 305.09 995.47 305.07 996.47 305.05C997.47 305.03 998.47 305.01 999.47 304.98C1000.47 304.96 1001.46 304.93 1002.46 304.91C1003.46 304.88 1004.46 304.86 1005.46 304.83C1006.46 304.80 1007.46 304.77 1008.46 304.74C1009.46 304.71 1010.46 304.67 1011.46 304.64C1012.46 304.60 1013.46 304.57 1014.46 304.53C1015.46 304.49 1016.46 304.44 1017.46 304.40C1018.46 304.35 1019.46 304.31 1020.46 304.26C1021.46 304.21 1022.46 304.16 1023.46 304.11C1024.46 304.06 1025.45 304.01 1026.45 303.96C1027.45 303.90 1028.45 303.85 1029.45 303.79C1030.45 303.74 1031.45 303.68 1032.45 303.63C1033.45 303.57 1034.45 303.51 1035.45 303.45C1036.45 303.39 1037.45 303.33 1038.45 303.27C1039.45 303.20 1040.45 303.14 1041.45 303.07C1042.45 303.00 1043.45 302.93 1044.45 302.86C1045.45 302.78 1046.45 302.71 1047.45 302.63C1048.45 302.55 1049.44 302.47 1050.44 302.39C1051.44 302.31 1052.44 302.22 1053.44 302.13C1054.44 302.04 1055.44 301.95 1056.44 301.86C1057.44 301.76 1058.44 301.66 1059.44 301.56C1060.44 301.45 1061.44 301.34 1062.44 301.22C1063.44 301.10 1064.44 300.98 1065.44 300.84C1066.44 300.71 1067.44 300.57 1068.44 300.42C1069.44 300.27 1070.44 300.11 1071.44 299.95C1072.43 299.79 1073.43 299.63 1074.43 299.46C1075.43 299.29 1076.43 299.12 1077.43 298.95C1078.43 298.78 1079.43 298.60 1080.43 298.43C1081.43 298.25 1082.43 298.07 1083.43 297.89C1084.43 297.71 1085.43 297.53 1086.43 297.34C1087.43 297.15 1088.43 296.96 1089.43 296.76C1090.43 296.56 1091.43 296.36 1092.43 296.14C1093.43 295.92 1094.43 295.70 1095.43 295.47C1096.42 295.23 1097.42 294.99 1098.42 294.72C1099.42 294.46 1100.42 294.18 1101.42 293.88C1102.42 293.58 1103.42 293.26 1104.42 292.91C1105.42 292.57 1106.42 292.20 1107.42 291.82C1108.42 291.43 1109.42 291.03 1110.42 290.60C1111.42 290.18 1112.42 289.74 1113.42 289.28C1114.42 288.82 1115.42 288.34 1116.42 287.83C1117.42 287.32 1118.42 286.79 1119.42 286.24C1120.41 285.68 1121.41 285.10 1122.41 284.50C1123.41 283.89 1124.41 283.27 1125.41 282.62C1126.41 281.96 1127.41 281.29 1128.41 280.58C1129.41 279.87 1130.41 279.13 1131.41 278.36C1132.41 277.59 1133.41 276.78 1134.41 275.96C1135.41 275.14 1136.41 274.29 1137.41 273.41C1138.41 272.54 1139.41 271.65 1140.41 270.72C1141.41 269.80 1142.41 268.86 1143.40 267.88C1144.40 266.91 1145.40 265.90 1146.40 264.88C1147.40 263.86 1148.40 262.81 1149.40 261.74C1150.40 260.68 1151.40 259.59 1152.40 258.48C1153.40 257.37 1154.40 256.23 1155.40 255.08C1156.40 253.92 1157.40 252.74 1158.40 251.56C1159.40 250.37 1160.40 249.17 1161.40 247.99C1162.40 246.82 1163.40 245.62 1164.40 244.51C1165.40 243.40 1166.40 242.29 1167.39 241.34C1168.39 240.39 1169.39 239.52 1170.39 238.81C1171.39 238.09 1172.39 237.52 1173.39 237.06C1174.39 236.60 1175.39 236.27 1176.39 236.05C1177.39 235.82 1178.39 235.72 1179.39 235.72C1180.39 235.72 1181.39 235.83 1182.39 236.06C1183.39 236.29 1184.39 236.61 1185.39 237.09C1186.39 237.57 1187.39 238.19 1188.39 238.95C1189.39 239.71 1190.39 240.63 1191.38 241.64C1192.38 242.65 1193.38 243.80 1194.38 245.01C1195.38 246.22 1196.38 247.54 1197.38 248.89C1198.38 250.24 1199.38 251.68 1200.38 253.13C1201.38 254.58 1202.38 256.07 1203.38 257.57C1204.38 259.06 1205.38 260.59 1206.38 262.09C1207.38 263.60 1208.38 265.13 1209.38 266.62C1210.38 268.11 1211.38 269.61 1212.38 271.06C1213.38 272.51 1214.37 273.94 1215.37 275.32C1216.37 276.69 1217.37 278.03 1218.37 279.30C1219.37 280.57 1220.37 281.79 1221.37 282.91C1222.37 284.04 1223.37 285.10 1224.37 286.06C1225.37 287.02 1226.37 287.88 1227.37 288.67C1228.37 289.47 1229.37 290.16 1230.37 290.83C1231.37 291.49 1232.37 292.08 1233.37 292.65C1234.37 293.22 1235.37 293.75 1236.37 294.25C1237.37 294.75 1238.36 295.22 1239.36 295.66C1240.36 296.10 1241.36 296.51 1242.36 296.89C1243.36 297.26 1244.36 297.61 1245.36 297.93C1246.36 298.25 1247.36 298.54 1248.36 298.81C1249.36 299.09 1250.36 299.34 1251.36 299.57C1252.36 299.81 1253.36 300.02 1254.36 300.23C1255.36 300.43 1256.36 300.62 1257.36 300.80C1258.36 300.97 1259.36 301.14 1260.36 301.29C1261.36 301.43 1262.35 301.57 1263.35 301.69C1264.35 301.81 1265.35 301.92 1266.35 302.01C1267.35 302.11 1268.35 302.20 1269.35 302.28C1270.35 302.36 1271.35 302.43 1272.35 302.48C1273.35 302.53 1274.35 302.57 1275.35 302.57C1276.35 302.58 1277.35 302.57 1278.35 302.54C1279.35 302.51 1280.35 302.45 1281.35 302.39C1282.35 302.33 1283.35 302.25 1284.35 302.18C1285.34 302.11 1286.34 302.04 1287.34 301.97C1288.34 301.90 1289.34 301.84 1290.34 301.77C1291.34 301.70 1292.34 301.64 1293.34 301.57C1294.34 301.49 1295.34 301.42 1296.34 301.34C1297.34 301.26 1298.34 301.17 1299.34 301.07C1300.34 300.96 1301.34 300.85 1302.34 300.73C1303.34 300.60 1304.34 300.46 1305.34 300.31C1306.34 300.17 1307.34 300.00 1308.34 299.84C1309.33 299.67 1310.33 299.49 1311.33 299.31C1312.33 299.12 1313.33 298.93 1314.33 298.73C1315.33 298.53 1316.33 298.32 1317.33 298.10C1318.33 297.88 1319.33 297.64 1320.33 297.40C1321.33 297.16 1322.33 296.90 1323.33 296.64C1324.33 296.37 1325.33 296.10 1326.33 295.81C1327.33 295.52 1328.33 295.22 1329.33 294.91C1330.33 294.60 1331.33 294.27 1332.33 293.93C1333.32 293.59 1334.32 293.24 1335.32 292.86C1336.32 292.49 1337.32 292.10 1338.32 291.70C1339.32 291.29 1340.32 290.87 1341.32 290.43C1342.32 289.99 1343.32 289.53 1344.32 289.05C1345.32 288.57 1346.32 288.07 1347.32 287.54C1348.32 287.00 1349.32 286.46 1350.32 285.85C1351.32 285.24 1352.32 284.61 1353.32 283.90C1354.32 283.20 1355.32 282.43 1356.31 281.61C1357.31 280.79 1358.31 279.90 1359.31 278.97C1360.31 278.05 1361.31 277.06 1362.31 276.06C1363.31 275.06 1364.31 274.02 1365.31 272.95C1366.31 271.89 1367.31 270.80 1368.31 269.66C1369.31 268.52 1370.31 267.36 1371.31 266.14C1372.31 264.92 1373.31 263.66 1374.31 262.35C1375.31 261.04 1376.31 259.68 1377.31 258.27C1378.31 256.87 1379.31 255.40 1380.30 253.91C1381.30 252.42 1382.30 250.88 1383.30 249.31C1384.30 247.75 1385.30 246.15 1386.30 244.54C1387.30 242.93 1388.30 241.29 1389.30 239.63C1390.30 237.98 1391.30 236.32 1392.30 234.62C1393.30 232.93 1394.30 231.24 1395.30 229.45C1396.30 227.65 1397.30 225.83 1398.30 223.86C1399.30 221.90 1400.30 219.81 1401.30 217.66C1402.30 215.50 1403.30 213.20 1404.29 210.93C1405.29 208.66 1406.29 206.32 1407.29 204.04C1408.29 201.76 1409.29 199.50 1410.29 197.27C1411.29 195.04 1412.29 192.85 1413.29 190.68C1414.29 188.51 1415.29 186.36 1416.29 184.26C1417.29 182.17 1418.29 180.08 1419.29 178.10C1420.29 176.11 1421.29 174.15 1422.29 172.35C1423.29 170.55 1424.29 168.81 1425.29 167.28C1426.29 165.75 1427.28 164.33 1428.28 163.17C1429.28 162.01 1430.28 161.03 1431.28 160.31C1432.28 159.59 1433.28 159.08 1434.28 158.84C1435.28 158.61 1436.28 158.57 1437.28 158.89C1438.28 159.22 1439.28 159.76 1440.28 160.78C1441.28 161.79 1442.28 163.17 1443.28 164.99C1444.28 166.81 1445.28 169.14 1446.28 171.70C1447.28 174.25 1448.28 177.28 1449.28 180.30C1450.28 183.33 1451.27 186.59 1452.27 189.84C1453.27 193.09 1454.27 196.41 1455.27 199.80C1456.27 203.19 1457.27 206.68 1458.27 210.17C1459.27 213.66 1460.27 217.29 1461.27 220.76C1462.27 224.23 1463.27 227.74 1464.27 230.99C1465.27 234.24 1466.27 237.39 1467.27 240.27C1468.27 243.14 1469.27 245.80 1470.27 248.26C1471.27 250.71 1472.27 252.91 1473.27 255.00C1474.27 257.09 1475.26 258.97 1476.26 260.80C1477.26 262.63 1478.26 264.32 1479.26 265.99C1480.26 267.65 1481.26 269.24 1482.26 270.78C1483.26 272.33 1484.26 273.83 1485.26 275.27C1486.26 276.71 1487.26 278.12 1488.26 279.43C1489.26 280.74 1490.26 282.01 1491.26 283.14C1492.26 284.28 1493.26 285.33 1494.26 286.25C1495.26 287.18 1496.26 287.97 1497.26 288.69C1498.25 289.41 1499.25 290.00 1500.25 290.58C1501.25 291.16 1502.25 291.66 1503.25 292.15C1504.25 292.65 1505.25 293.11 1506.25 293.55C1507.25 293.99 1508.25 294.41 1509.25 294.79C1510.25 295.18 1511.25 295.54 1512.25 295.87C1513.25 296.21 1514.25 296.50 1515.25 296.79C1516.25 297.08 1517.25 297.33 1518.25 297.58C1519.25 297.84 1520.25 298.07 1521.25 298.30C1522.24 298.53 1523.24 298.76 1524.24 298.96C1525.24 299.17 1526.24 299.37 1527.24 299.55C1528.24 299.72 1529.24 299.88 1530.24 300.03C1531.24 300.17 1532.24 300.30 1533.24 300.42C1534.24 300.54 1535.24 300.65 1536.24 300.75C1537.24 300.84 1538.24 300.94 1539.24 301.02C1540.24 301.10 1541.24 301.17 1542.24 301.23C1543.24 301.30 1544.24 301.35 1545.24 301.40C1546.23 301.45 1547.23 301.50 1548.23 301.54C1549.23 301.58 1550.23 301.62 1551.23 301.66C1552.23 301.69 1553.23 301.73 1554.23 301.76C1555.23 301.79 1556.23 301.82 1557.23 301.85C1558.23 301.88 1559.23 301.90 1560.23 301.93C1561.23 301.95 1562.23 301.98 1563.23 302.00C1564.23 302.02 1565.23 302.04 1566.23 302.06C1567.23 302.08 1568.23 302.10 1569.22 302.12C1570.22 302.13 1571.22 302.15 1572.22 302.17C1573.22 302.18 1574.22 302.20 1575.22 302.21C1576.22 302.23 1577.22 302.24 1578.22 302.26C1579.22 302.27 1580.22 302.28 1581.22 302.30C1582.22 302.31 1583.22 302.32 1584.22 302.33C1585.22 302.35 1586.22 302.36 1587.22 302.37C1588.22 302.38 1589.22 302.39 1590.22 302.40C1591.22 302.41 1592.22 302.42 1593.21 302.44C1594.21 302.45 1595.21 302.46 1596.21 302.47C1597.21 302.48 1598.21 302.49 1599.21 302.50C1600.21 302.51 1601.21 302.53 1602.21 302.54C1603.21 302.55 1604.21 302.56 1605.21 302.57C1606.21 302.58 1607.21 302.59 1608.21 302.60C1609.21 302.61 1610.21 302.62 1611.21 302.63C1612.21 302.63 1613.21 302.64 1614.21 302.65C1615.21 302.66 1616.21 302.66 1617.20 302.67C1618.20 302.68 1619.20 302.68 1620.20 302.69C1621.20 302.69 1622.20 302.69 1623.20 302.70C1624.20 302.70 1625.37 302.70 1626.20 302.70C1627.03 302.70 1627.87 302.70 1628.20 302.70" stroke="#f00"/>
</g>
<g stroke="#000" stroke-width="3.2" stroke-linecap="round" fill="none" stroke-dasharray="13.3 9.9 1.3 9.9">
<line x1="1178.9" y1="233.9" x2="1184.4" y2="623.5"/>
<line x1="1435.4" y1="161.9" x2="1439.2" y2="623.5"/>
</g>
<g stroke="#000" stroke-width="2.6" stroke-linecap="round" fill="none">
<line x1="1169.3" y1="107" x2="1169.3" y2="163"/>
<line x1="1169.3" y1="131.4" x2="1270" y2="131.4"/>
<line x1="1345" y1="129.7" x2="1433.6" y2="129.7"/>
<line x1="1433.6" y1="101" x2="1433.6" y2="151.5"/>
</g>
<text class="serif" transform="translate(1272.60 130.00) scale(1.2 1.03)" font-size="28">δυ</text>
<text class="serifb" transform="translate(1305.30 140.60) scale(1.075 1)" font-size="16.8">MoS</text>
<text class="serif" transform="translate(1341.00 146.80)" font-size="10.5">2</text>
<g stroke-width="4.3" stroke-linecap="round">
<line x1="930" y1="86.1" x2="996.2" y2="86.1" stroke="#000"/>
<line x1="930" y1="123.7" x2="996.2" y2="123.7" stroke="#f00"/>
</g>
<g clip-path="url(#h2)" transform="translate(1004.50 95.80) scale(1 1.05)"><text class="sans" font-size="29.6">1000g</text></g>
<g clip-path="url(#h2)" transform="translate(1004.50 133.40) scale(1 1.05)"><text class="sans" font-size="29.6">1400g</text></g>
<text class="sans" transform="translate(919.50 665.80) scale(1 1.025)" font-size="26.4" text-anchor="middle">360</text>
<text class="sans" transform="translate(1020.47 665.80) scale(1 1.025)" font-size="26.4" text-anchor="middle">370</text>
<text class="sans" transform="translate(1121.44 665.80) scale(1 1.025)" font-size="26.4" text-anchor="middle">380</text>
<text class="sans" transform="translate(1222.41 665.80) scale(1 1.025)" font-size="26.4" text-anchor="middle">390</text>
<text class="sans" transform="translate(1323.38 665.80) scale(1 1.025)" font-size="26.4" text-anchor="middle">400</text>
<g clip-path="url(#h3)" transform="translate(1402.33 665.80) scale(1 1.025)"><text class="sans" font-size="26.4">410</text></g>
<text class="sans" transform="translate(1525.32 665.80) scale(1 1.025)" font-size="26.4" text-anchor="middle">420</text>
<text class="sans" transform="translate(1626.29 665.80) scale(1 1.025)" font-size="26.4" text-anchor="middle">430</text>
<text class="sans" transform="translate(888.80 575.20) scale(1 1.025)" font-size="26.4" text-anchor="middle">0.0</text>
<text class="sans" transform="translate(888.80 459.05) scale(1 1.025)" font-size="26.4" text-anchor="middle">0.5</text>
<g clip-path="url(#h4)" transform="translate(870.45 342.90) scale(1 1.025)"><text class="sans" font-size="26.4">1.0</text></g>
<g clip-path="url(#h4)" transform="translate(870.45 226.75) scale(1 1.025)"><text class="sans" font-size="26.4">1.5</text></g>
<text class="sans" transform="translate(888.80 110.60) scale(1 1.025)" font-size="26.4" text-anchor="middle">2.0</text>
<g clip-path="url(#h5)" transform="translate(1144.50 717.00)"><text class="sans" font-size="29.8">Raman shift (cm<tspan font-size="16.8" dy="-13.8">-1</tspan><tspan dy="13.8" dx="-0.7">)</tspan></text></g>
<text class="sans" transform="translate(855.00 325.00) rotate(-90)" font-size="29.7" text-anchor="middle">Raman Intensity (a.u.)</text>
<text class="sans" transform="translate(1137.20 452.70) scale(1 1.065)" font-size="28.3">E</text>
<g clip-path="url(#h6)" transform="translate(1155.60 438.70) scale(1 1.03)"><text class="sans" font-size="17.9">1</text></g>
<text class="sans" transform="translate(1156.30 463.70) scale(1 1.02)" font-size="17.9">2g</text>
<text class="sans" transform="translate(1443.90 385.50) scale(1 1.015)" font-size="29.8">A</text>
<g clip-path="url(#h6)" transform="translate(1465.60 395.70) scale(1 1.03)"><text class="sans" font-size="17.9">1g</text></g>
</g>
</svg>
</body>
</html>
